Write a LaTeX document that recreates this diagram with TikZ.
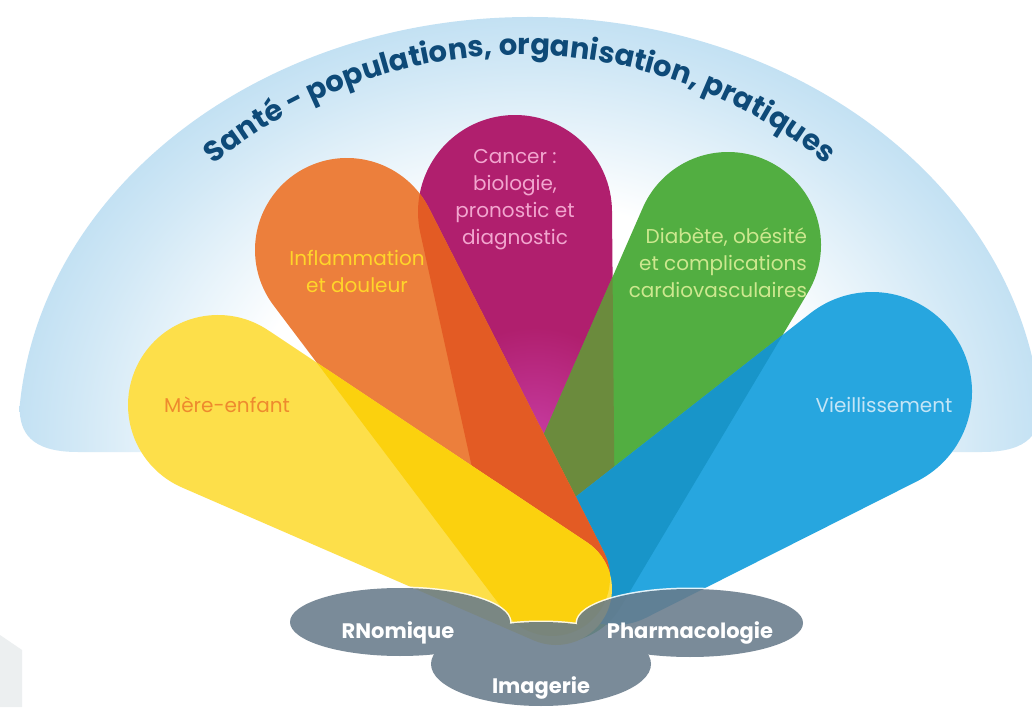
\documentclass[tikz,border=0pt]{standalone}
\usepackage{fontspec}
\setmainfont{Poppins}
\usetikzlibrary{calc, decorations.text}

\definecolor{domeblue}{HTML}{C3E1F3}
\definecolor{titleblue}{HTML}{0E4A78}
\definecolor{cornergrey}{HTML}{ECEFF0}
\definecolor{meyellow}{HTML}{FDDF4A}
\definecolor{deepyellow}{HTML}{FBD10E}
\definecolor{inforange}{HTML}{EC7F3C}
\definecolor{redorange}{HTML}{E35B24}
\definecolor{cancmagenta}{HTML}{B01F6E}
\definecolor{glowpink}{HTML}{C63BA0}
\definecolor{diabgreen}{HTML}{52AE41}
\definecolor{olivegreen}{HTML}{6B8B3D}
\definecolor{vieilblue}{HTML}{27A6DF}
\definecolor{tealblue}{HTML}{1895C9}
\definecolor{platform}{HTML}{687B8B}
\definecolor{mertext}{HTML}{EE8A2E}
\definecolor{inftext}{HTML}{FFD52A}
\definecolor{cantext}{HTML}{F2A6CF}
\definecolor{diatext}{HTML}{CDE88F}
\definecolor{vieitext}{HTML}{C4E5F6}

\pgfdeclareradialshading{domeshade}{\pgfpoint{0bp}{0bp}}{color(0bp)=(white); color(14bp)=(white); color(22bp)=(domeblue!75); color(25bp)=(domeblue); color(50bp)=(domeblue)}

\newcommand\titlefont{\fontsize{14.5}{16}\selectfont\bfseries}

% petal = hull of an outer circle and an inner circle
\newcommand\petal[7]{% #1 saved path, #2/#3 outer centre, #4 outer radius, #5/#6 inner centre, #7 inner radius
  \pgfmathsetmacro\pang{atan2(#6-#3,#5-#2)}
  \pgfmathsetmacro\palp{acos((#4-#7)/veclen(#5-#2,#6-#3))}
  \path[save path=#1] (#2,#3) ++(\pang+\palp:#4)
    arc[start angle=\pang+\palp, end angle=\pang-\palp+360, radius=#4]
    -- ($(#5,#6)+(\pang-\palp:#7)$)
    arc[start angle=\pang-\palp, end angle=\pang+\palp, radius=#7] -- cycle;
}

\begin{document}
\begin{tikzpicture}[x=0.5pt, y=0.5pt,
    petaltext/.style={font=\fontsize{10}{13.5}\selectfont, align=center},
    platetext/.style={font=\fontsize{10.5}{12}\selectfont\bfseries, text=white},
    plate/.style={fill=platform},
    plateline/.style={draw=white, line width=1.5pt}]
  \useasboundingbox[fill=white] (0,0) rectangle (1032,707);
  \fill[cornergrey] (0,72) -- (22,57) -- (22,0) -- (0,0) -- cycle;

  % dome
  \begin{scope}
    \clip (530,255) -- (78,255) .. controls (30,255) and (19.6,275) .. (19.6,300)
      arc[start angle=175.53, end angle=4.47, x radius=512, y radius=423]
      .. controls (1040.4,275) and (1030,255) .. (982,255) -- cycle;
    \shade[shading=domeshade] (530,267) ellipse [x radius=512, y radius=423];
  \end{scope}
  \path[decorate, decoration={text along path, text align=center, text color=titleblue,
      text={|\titlefont|Santé - populations, organisation, pratiques}}]
    (520,169) ++(140:483) arc[start angle=140, end angle=40, radius=483];

  % petals
  \petal{\pmagenta}{515}{495}{97}{553}{160}{62}
  \petal{\pgreen}{728}{462}{93}{560}{135}{70}
  \petal{\pblue}{872}{315}{100}{615}{152}{70}
  \petal{\porange}{347}{457}{92}{552}{129}{58}
  \petal{\pyellow}{218}{302}{90}{556}{118}{56}

  \fill[cancmagenta, use path=\pmagenta];
  \begin{scope}
    \clip[use path=\pmagenta];
    \shade[inner color=glowpink, outer color=cancmagenta] (535,270) circle [radius=110];
  \end{scope}
  \fill[diabgreen, use path=\pgreen];
  \begin{scope}
    \clip[use path=\pmagenta];
    \fill[olivegreen, use path=\pgreen];
  \end{scope}
  \fill[vieilblue, use path=\pblue];
  \begin{scope}
    \clip[use path=\pgreen];
    \fill[tealblue, use path=\pblue];
  \end{scope}
  \fill[inforange, use path=\porange];
  \begin{scope}
    \clip[use path=\pmagenta];
    \fill[redorange, use path=\porange];
  \end{scope}
  \fill[meyellow, use path=\pyellow];
  \begin{scope}
    \clip[use path=\porange];
    \fill[deepyellow, use path=\pyellow];
  \end{scope}

  % grey plates
  \begin{scope}[transparency group, opacity=0.88]
    \foreach \cx/\cy/\rx/\ry in {400/85/110/34, 690/84/113/34, 541/43/110/42}
      \draw[plateline] (\cx,\cy) ellipse [x radius=\rx, y radius=\ry];
    \foreach \cx/\cy/\rx/\ry in {400/85/110/34, 690/84/113/34, 541/43/110/42}
      \fill[plate] (\cx,\cy) ellipse [x radius=\rx, y radius=\ry];
  \end{scope}

  \node[petaltext, text=mertext] (mere) at (227,302) {Mère-enfant};
  \node[petaltext, text=inftext] (inflam) at (357,436) {Inflammation\\et douleur};
  \node[petaltext, text=cantext] (cancer) at (515,507) {Cancer :\\biologie,\\pronostic et\\diagnostic};
  \node[petaltext, text=diatext, align=right, anchor=east] (diabete) at (814,444) {Diabète, obésité\\et complications\\cardiovasculaires};
  \node[petaltext, text=vieitext] (vieil) at (884,302) {Vieillissement};
  \node[platetext] (rnomique) at (398,74) {RNomique};
  \node[platetext] (pharma) at (690,74) {Pharmacologie};
  \node[platetext] (imagerie) at (541,19) {Imagerie};
\end{tikzpicture}
\end{document}
